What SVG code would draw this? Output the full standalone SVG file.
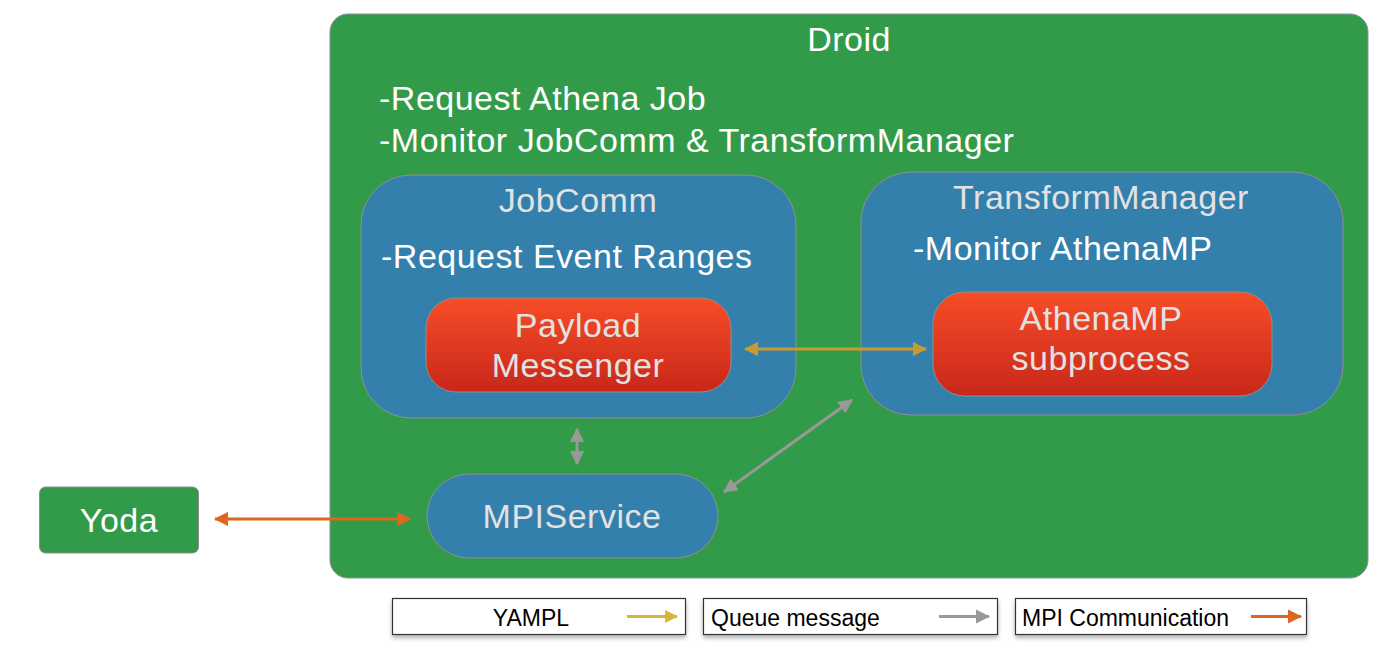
<svg xmlns="http://www.w3.org/2000/svg" width="1384" height="650" viewBox="0 0 1384 650">
<style>
.green{fill:#329b4a;stroke:#8f8f8f;stroke-width:1}
.blue{fill:#3380ad;stroke:#8f8f8f;stroke-width:1}
.red{fill:url(#redg);stroke:#8f8f8f;stroke-width:1}
.t{font-family:"Liberation Sans",Arial,sans-serif;font-size:34px;letter-spacing:0.5px}
.w{fill:#ffffff}
.g{fill:#e2e2e2}
.lg{font-family:"Liberation Sans",Arial,sans-serif;font-size:23px;fill:#000}
.leg{fill:#fff;stroke:#333;stroke-width:1.2}
</style>
<defs>
<linearGradient id="redg" x1="0" y1="0" x2="0" y2="1">
<stop offset="0" stop-color="#f74d27"/>
<stop offset="1" stop-color="#c8271a"/>
</linearGradient>
<filter id="sh" x="-5%" y="-20%" width="110%" height="160%">
<feDropShadow dx="0" dy="3" stdDeviation="2" flood-color="#000" flood-opacity="0.3"/>
</filter>
<marker id="ay" viewBox="0 0 12 12" refX="11" refY="6" markerWidth="4.8" markerHeight="4.8" orient="auto-start-reverse" markerUnits="strokeWidth"><path d="M0,0 L12,6 L0,12 Z" fill="#c99a2e"/></marker>
<marker id="ag" viewBox="0 0 12 12" refX="11" refY="6" markerWidth="4.8" markerHeight="4.8" orient="auto-start-reverse" markerUnits="strokeWidth"><path d="M0,0 L12,6 L0,12 Z" fill="#999999"/></marker>
<marker id="ao" viewBox="0 0 12 12" refX="11" refY="6" markerWidth="4.8" markerHeight="4.8" orient="auto-start-reverse" markerUnits="strokeWidth"><path d="M0,0 L12,6 L0,12 Z" fill="#e0661f"/></marker>
<marker id="ly" viewBox="0 0 12 12" refX="11" refY="6" markerWidth="4.3" markerHeight="4.3" orient="auto" markerUnits="strokeWidth"><path d="M0,0 L12,6 L0,12 Z" fill="#d9b43a"/></marker>
</defs>

<g id="droid">
<rect class="green" x="330" y="14" width="1038" height="564" rx="18"/>
<text class="t w" x="849" y="51" text-anchor="middle">Droid</text>
<text class="t w" x="379" y="110">-Request Athena Job</text>
<text class="t w" x="379" y="152">-Monitor JobComm &amp; TransformManager</text>
</g>

<g id="jobcomm">
<rect class="blue" x="361" y="175" width="435" height="243" rx="50"/>
<text class="t g" x="578" y="212" text-anchor="middle">JobComm</text>
<text class="t w" x="381" y="268">-Request Event Ranges</text>
</g>

<g id="payload-messenger">
<rect class="red" x="426" y="298" width="305" height="94" rx="30"/>
<text class="t g" x="578" y="337" text-anchor="middle">Payload</text>
<text class="t g" x="578" y="377" text-anchor="middle">Messenger</text>
</g>

<g id="transformmanager">
<rect class="blue" x="861" y="172" width="482" height="243" rx="50"/>
<text class="t g" x="1101" y="209" text-anchor="middle">TransformManager</text>
<text class="t w" x="913" y="260">-Monitor AthenaMP</text>
</g>

<g id="athenamp">
<rect class="red" x="933" y="292" width="339" height="104" rx="32"/>
<text class="t g" x="1101" y="330" text-anchor="middle">AthenaMP</text>
<text class="t g" x="1101" y="370" text-anchor="middle">subprocess</text>
</g>

<g id="mpiservice">
<rect class="blue" x="427" y="474" width="291" height="84" rx="42"/>
<text class="t g" x="572" y="528" text-anchor="middle">MPIService</text>
</g>

<g id="yoda">
<rect class="green" x="39.5" y="487" width="159" height="66" rx="6"/>
<text class="t w" x="119" y="532" text-anchor="middle">Yoda</text>
</g>

<g id="connectors">
<line x1="745" y1="349" x2="926" y2="349" stroke="#c99a2e" stroke-width="3" marker-start="url(#ay)" marker-end="url(#ay)"/>
<line x1="577" y1="429" x2="577" y2="464" stroke="#999999" stroke-width="3" marker-start="url(#ag)" marker-end="url(#ag)"/>
<line x1="724" y1="492" x2="852" y2="400" stroke="#999999" stroke-width="3" marker-start="url(#ag)" marker-end="url(#ag)"/>
<line x1="215" y1="519" x2="410" y2="519" stroke="#e0661f" stroke-width="3" marker-start="url(#ao)" marker-end="url(#ao)"/>
</g>

<g id="legend">
<g filter="url(#sh)">
<rect class="leg" x="392.5" y="598.5" width="293" height="36"/>
<rect class="leg" x="703.5" y="598.5" width="294" height="36"/>
<rect class="leg" x="1015.5" y="598.5" width="291" height="36"/>
</g>
<text class="lg" x="531" y="626" text-anchor="middle">YAMPL</text>
<text class="lg" x="711" y="626">Queue message</text>
<text class="lg" x="1022" y="626">MPI Communication</text>
<line x1="627" y1="616.5" x2="677" y2="616.5" stroke="#d9b43a" stroke-width="3" marker-end="url(#ly)"/>
<line x1="939" y1="616.5" x2="989" y2="616.5" stroke="#999999" stroke-width="3" marker-end="url(#ag)"/>
<line x1="1251" y1="616.5" x2="1301" y2="616.5" stroke="#e0661f" stroke-width="3" marker-end="url(#ao)"/>
</g>
</svg>
